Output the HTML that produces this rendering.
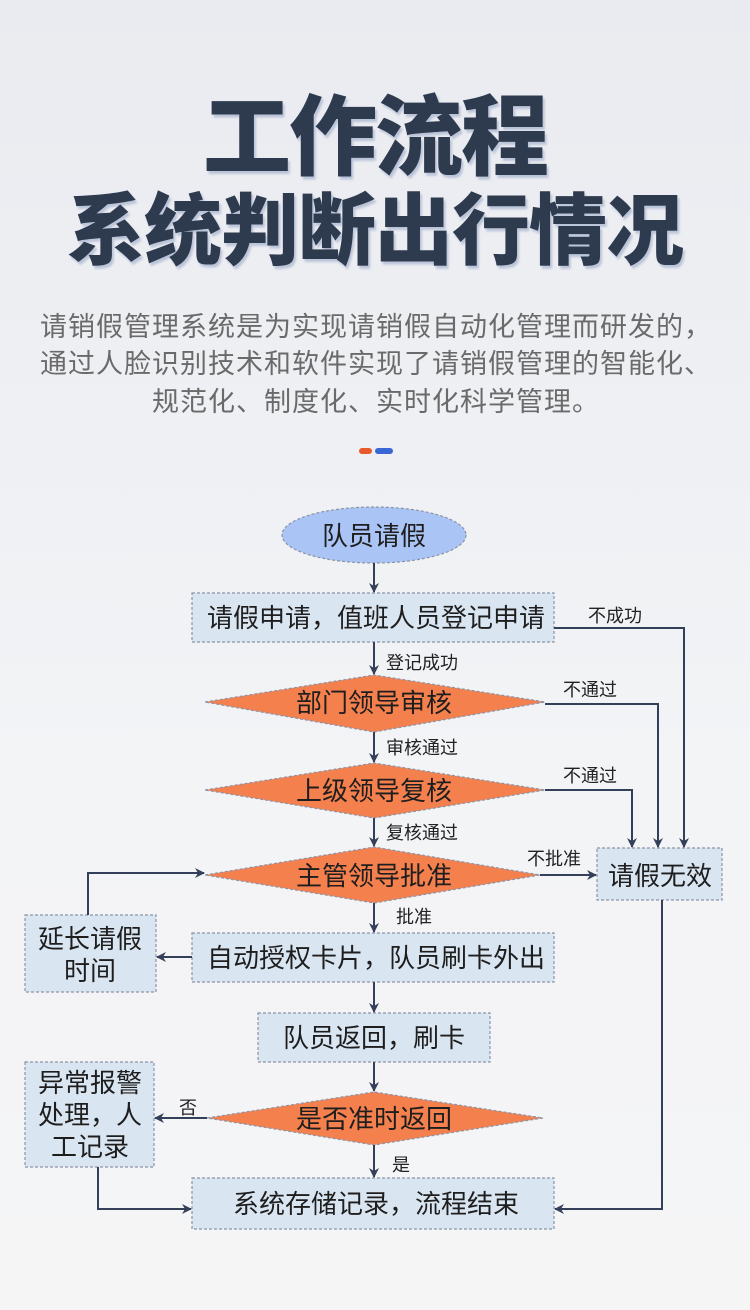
<!DOCTYPE html>
<html><head><meta charset="utf-8"><style>
html,body{margin:0;padding:0}
body{width:750px;height:1310px;background:linear-gradient(#e9ebf0,#f3f4f6 60%,#f5f5f6);font-family:"Liberation Sans","Noto Sans CJK SC",sans-serif;overflow:hidden}
svg{display:block}
</style></head><body>
<svg width="750" height="1310" viewBox="0 0 750 1310" xmlns="http://www.w3.org/2000/svg" font-family="Liberation Sans, Noto Sans CJK SC, sans-serif">
<defs>
<marker id="a" markerWidth="10" markerHeight="10" refX="9" refY="5" orient="auto" markerUnits="userSpaceOnUse"><path d="M0,0 L10,5 L0,10 L3,5 z" fill="#34405a"/></marker>
<filter id="sh"><feDropShadow dx="2" dy="3" stdDeviation="1" flood-color="#9aa8c8" flood-opacity="0.6"/></filter>
</defs>
<g fill="#2d3a50" font-weight="900" text-anchor="middle" filter="url(#sh)">
<text x="375" y="168" font-size="88" letter-spacing="-2">工作流程</text>
<text x="375" y="258" font-size="78" letter-spacing="-1">系统判断出行情况</text>
</g>
<g fill="#6a6a6a" font-size="27" text-anchor="middle" letter-spacing="1">
<text x="376" y="336">请销假管理系统是为实现请销假自动化管理而研发的，</text>
<text x="376" y="373">通过人脸识别技术和软件实现了请销假管理的智能化、</text>
<text x="376" y="411">规范化、制度化、实时化科学管理。</text>
</g>
<rect x="359" y="448" width="13" height="6" rx="3" fill="#e85a2c"/>
<rect x="375" y="448" width="18" height="6" rx="3" fill="#3a67d6"/>

<g stroke="#8a94a8" stroke-width="1.2" stroke-dasharray="3,2">
<ellipse cx="374" cy="535" rx="92" ry="28" fill="#a9c4f5"/>
<g fill="#d9e5f1">
<rect x="192" y="593" width="362" height="49"/>
<rect x="597" y="848" width="125" height="52"/>
<rect x="192" y="933" width="362" height="49"/>
<rect x="258" y="1013" width="232" height="49"/>
<rect x="192" y="1178" width="362" height="51"/>
<rect x="25" y="915" width="131" height="77"/>
<rect x="25" y="1062" width="129" height="105"/>
</g>
<g fill="#f4804e">
<polygon points="205,702 374,675 545,702 374,732"/>
<polygon points="205,790 374,763 545,790 374,818"/>
<polygon points="205,875 374,847 540,875 374,903"/>
<polygon points="207,1118 374,1092 543,1118 374,1145"/>
</g>
</g>

<g stroke="#34405a" stroke-width="2" fill="none" marker-end="url(#a)">
<path d="M374,563 V592"/>
<path d="M374,642 V674"/>
<path d="M374,732 V762"/>
<path d="M374,818 V846"/>
<path d="M374,903 V932"/>
<path d="M374,982 V1012"/>
<path d="M374,1062 V1091"/>
<path d="M374,1145 V1177"/>
<path d="M554,628 H684 V847"/>
<path d="M545,704 H658 V847"/>
<path d="M545,790 H632 V847"/>
<path d="M540,875 H596"/>
<path d="M662,900 V1209 H555"/>
<path d="M192,957 H157"/>
<path d="M88,915 V873 H204"/>
<path d="M207,1118 H155"/>
<path d="M98,1167 V1209 H191"/>
</g>

<g fill="#1e1e1e" font-size="26" text-anchor="middle">
<text x="374" y="545">队员请假</text>
<text x="376" y="627">请假申请，值班人员登记申请</text>
<text x="374" y="712">部门领导审核</text>
<text x="374" y="800">上级领导复核</text>
<text x="374" y="885">主管领导批准</text>
<text x="660" y="885">请假无效</text>
<text x="376" y="967">自动授权卡片，队员刷卡外出</text>
<text x="374" y="1047">队员返回，刷卡</text>
<text x="374" y="1128">是否准时返回</text>
<text x="376" y="1213">系统存储记录，流程结束</text>
<text x="90" y="948">延长请假</text>
<text x="90" y="980">时间</text>
<text x="90" y="1092">异常报警</text>
<text x="90" y="1124">处理，人</text>
<text x="90" y="1156">工记录</text>
</g>
<g fill="#222" font-size="18">
<text x="386" y="669">登记成功</text>
<text x="386" y="754">审核通过</text>
<text x="386" y="839">复核通过</text>
<text x="396" y="923">批准</text>
<text x="392" y="1171">是</text>
<text x="179" y="1114">否</text>
<text x="588" y="622">不成功</text>
<text x="563" y="696">不通过</text>
<text x="563" y="782">不通过</text>
<text x="527" y="865">不批准</text>
</g>
</svg>
</body></html>
